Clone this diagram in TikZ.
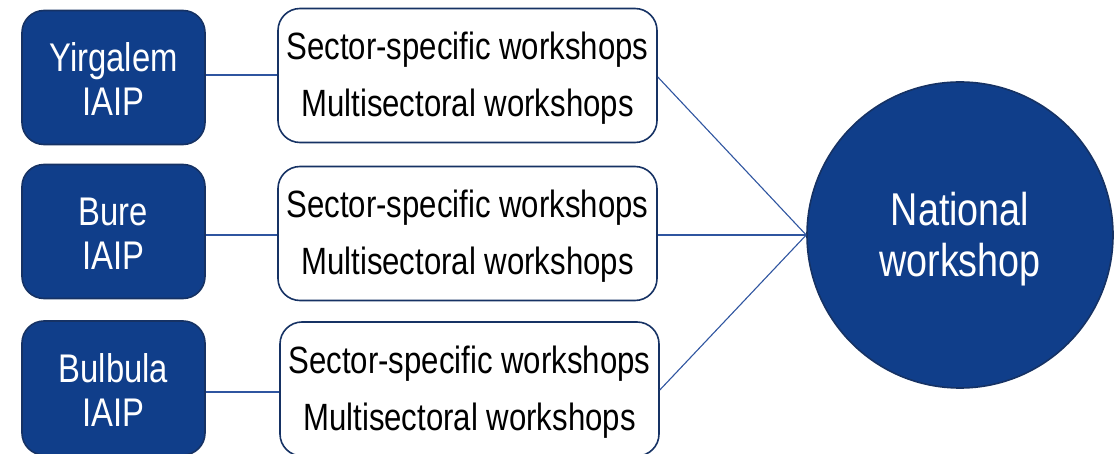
\documentclass[tikz,border=0pt]{standalone}
\usepackage{fontspec}
\setmainfont{Liberation Sans}[FakeStretch=0.82]
\definecolor{navy}{RGB}{16,62,138}
\definecolor{navyedge}{RGB}{22,50,100}
\definecolor{linkblue}{RGB}{47,85,160}
\begin{document}
\begin{tikzpicture}[x=1pt,y=-1pt,
  site/.style={draw=navyedge, line width=1.6pt, fill=navy, rounded corners=22pt,
    minimum width=183pt, minimum height=134pt, inner sep=0pt},
  sitetext/.style={text=white, align=center, inner sep=0pt, font=\fontsize{40}{44}\selectfont},
  wsbox/.style={draw=navyedge, line width=1.6pt, fill=white, rounded corners=22pt,
    minimum width=379pt, minimum height=134pt, inner sep=0pt},
  wstext/.style={text=black, align=center, inner sep=0pt, font=\fontsize{38}{57}\selectfont},
  nat/.style={circle, draw=navyedge, line width=1.6pt, fill=navy, minimum size=306pt, inner sep=0pt},
  nattext/.style={text=white, align=center, inner sep=0pt, font=\fontsize{46}{51}\selectfont},
  link/.style={draw=linkblue, line width=1.1pt}]
\useasboundingbox (0,0) rectangle (1114,454);
\node[site] (y) at (113.5,77.5) {};
\node[site] (b) at (113.5,231.5) {};
\node[site] (bb) at (113.5,388) {};
\node[sitetext] (yt) at ([yshift=-2pt]y.center) {Yirgalem\\IAIP};
\node[sitetext] (bt) at ([yshift=-2pt]b.center) {Bure\\IAIP};
\node[sitetext] (bbt) at ([yshift=-2pt]bb.center) {Bulbula\\IAIP};
\node[wsbox] (w1) at (467.5,75.5) {};
\node[wsbox] (w2) at (467.5,233.5) {};
\node[wsbox] (w3) at (469.5,389) {};
\node[wstext] (w1t) at ([yshift=-3pt]w1.center) {Sector-specific workshops\\Multisectoral workshops};
\node[wstext] (w2t) at ([yshift=-3pt]w2.center) {Sector-specific workshops\\Multisectoral workshops};
\node[wstext] (w3t) at ([yshift=-3pt]w3.center) {Sector-specific workshops\\Multisectoral workshops};
\node[nat] (n) at (960,235) {};
\node[nattext] (nt) at ([yshift=-4pt]n.center) {National\\workshop};
\draw[link] (y.east |- 0,75) -- (w1.west |- 0,75);
\draw[link] (b.east |- 0,235) -- (w2.west |- 0,235);
\draw[link] (bb.east |- 0,392) -- (w3.west |- 0,392);
\draw[link] (w1.east |- 0,77) -- (n.west);
\draw[link] (w2.east |- 0,235) -- (n.west);
\draw[link] (w3.east |- 0,390) -- (n.west);
\end{tikzpicture}
\end{document}
